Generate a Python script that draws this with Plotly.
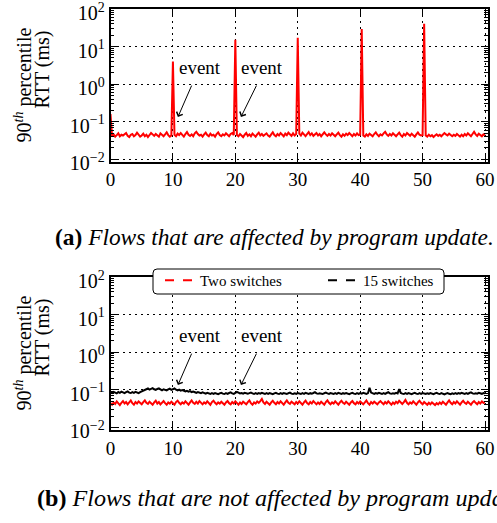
import math
import plotly.graph_objects as go

# ---------------- data ----------------
STEP = 0.25
time_s = [round(i * STEP, 2) for i in range(241)]

# (a) flows affected by program update (Two switches)
rtt_affected = [
    0.16, 0.042, 0.046, 0.040, 0.044, 0.049, 0.041, 0.045, 0.043, 0.048, 0.050, 0.042, 0.039, 0.045, 0.047, 0.041, 0.044, 0.051, 0.046, 0.040,
    0.043, 0.048, 0.041, 0.045, 0.039, 0.044, 0.050, 0.046, 0.042, 0.047, 0.043, 0.040, 0.049, 0.045, 0.041, 0.046, 0.052, 0.044, 0.040, 0.043,
    4.0, 0.045, 0.041, 0.048, 0.044, 0.050, 0.043, 0.040, 0.047, 0.053, 0.045, 0.042, 0.046, 0.041, 0.049, 0.054, 0.047, 0.043, 0.045, 0.040,
    0.046, 0.051, 0.044, 0.041, 0.048, 0.043, 0.045, 0.040, 0.047, 0.052, 0.044, 0.041, 0.046, 0.043, 0.049, 0.045, 0.041, 0.047, 0.050, 0.044,
    15.0, 0.044, 0.041, 0.047, 0.043, 0.039, 0.045, 0.050, 0.042, 0.046, 0.041, 0.048, 0.044, 0.040, 0.046, 0.051, 0.043, 0.047, 0.042, 0.045,
    0.049, 0.043, 0.040, 0.046, 0.052, 0.044, 0.041, 0.047, 0.043, 0.050, 0.045, 0.041, 0.048, 0.044, 0.051, 0.046, 0.042, 0.049, 0.043, 0.047,
    17.0, 0.048, 0.043, 0.051, 0.045, 0.041, 0.047, 0.053, 0.044, 0.049, 0.042, 0.046, 0.050, 0.043, 0.047, 0.041, 0.045, 0.052, 0.046, 0.042,
    0.047, 0.043, 0.049, 0.045, 0.041, 0.046, 0.051, 0.044, 0.040, 0.046, 0.042, 0.048, 0.044, 0.050, 0.045, 0.041, 0.047, 0.043, 0.049, 0.044,
    0.045, 29.0, 0.043, 0.040, 0.046, 0.042, 0.048, 0.044, 0.041, 0.047, 0.052, 0.045, 0.041, 0.046, 0.043, 0.049, 0.054, 0.046, 0.042, 0.047,
    0.043, 0.049, 0.045, 0.041, 0.046, 0.051, 0.044, 0.040, 0.047, 0.043, 0.050, 0.045, 0.042, 0.048, 0.044, 0.040, 0.046, 0.052, 0.045, 0.043,
    0.044, 40.0, 0.043, 0.040, 0.045, 0.041, 0.044, 0.039, 0.043, 0.046, 0.042, 0.045, 0.041, 0.047, 0.050, 0.046, 0.043, 0.048, 0.044, 0.041,
    0.045, 0.042, 0.047, 0.043, 0.040, 0.045, 0.041, 0.047, 0.043, 0.049, 0.045, 0.041, 0.047, 0.054, 0.046, 0.042, 0.048, 0.044, 0.041, 0.046,
    0.043,
]

# (b) flows not affected by program update
rtt_two_switches = [
    0.044, 0.040, 0.046, 0.042, 0.049, 0.044, 0.039, 0.045, 0.050, 0.043, 0.047, 0.041, 0.046, 0.052, 0.044, 0.040, 0.047, 0.043, 0.049, 0.045,
    0.041, 0.047, 0.052, 0.045, 0.042, 0.048, 0.044, 0.040, 0.046, 0.051, 0.043, 0.047, 0.041, 0.045, 0.050, 0.044, 0.040, 0.046, 0.043, 0.048,
    0.044, 0.040, 0.047, 0.051, 0.045, 0.041, 0.046, 0.043, 0.049, 0.044, 0.040, 0.046, 0.052, 0.045, 0.042, 0.048, 0.043, 0.050, 0.045, 0.041,
    0.046, 0.043, 0.049, 0.044, 0.040, 0.047, 0.051, 0.045, 0.041, 0.046, 0.043, 0.048, 0.044, 0.040, 0.046, 0.050, 0.044, 0.041, 0.047, 0.043,
    0.049, 0.044, 0.040, 0.046, 0.042, 0.048, 0.045, 0.041, 0.047, 0.052, 0.044, 0.040, 0.046, 0.043, 0.049, 0.045, 0.050, 0.057, 0.046, 0.042,
    0.048, 0.044, 0.040, 0.046, 0.051, 0.045, 0.041, 0.047, 0.043, 0.049, 0.044, 0.040, 0.046, 0.052, 0.045, 0.042, 0.048, 0.044, 0.041, 0.047,
    0.043, 0.049, 0.045, 0.040, 0.046, 0.051, 0.044, 0.041, 0.047, 0.043, 0.050, 0.045, 0.041, 0.046, 0.042, 0.048, 0.044, 0.040, 0.047, 0.052,
    0.045, 0.041, 0.046, 0.043, 0.049, 0.044, 0.040, 0.046, 0.051, 0.045, 0.042, 0.048, 0.043, 0.040, 0.046, 0.050, 0.044, 0.041, 0.047, 0.043,
    0.049, 0.045, 0.041, 0.046, 0.052, 0.044, 0.040, 0.047, 0.043, 0.048, 0.044, 0.041, 0.046, 0.050, 0.045, 0.041, 0.047, 0.043, 0.049, 0.044,
    0.040, 0.046, 0.042, 0.048, 0.044, 0.051, 0.046, 0.042, 0.047, 0.054, 0.045, 0.041, 0.046, 0.043, 0.049, 0.044, 0.040, 0.046, 0.051, 0.045,
    0.041, 0.047, 0.043, 0.040, 0.045, 0.041, 0.046, 0.043, 0.039, 0.044, 0.041, 0.046, 0.042, 0.048, 0.044, 0.040, 0.046, 0.052, 0.045, 0.041,
    0.047, 0.043, 0.049, 0.044, 0.040, 0.046, 0.051, 0.045, 0.042, 0.048, 0.044, 0.040, 0.046, 0.050, 0.045, 0.041, 0.047, 0.043, 0.049, 0.045,
    0.046,
]

rtt_15_switches = [
    0.086, 0.082, 0.088, 0.084, 0.080, 0.087, 0.083, 0.089, 0.085, 0.081, 0.086, 0.090, 0.084, 0.082, 0.087, 0.083, 0.088, 0.085, 0.081, 0.086,
    0.090, 0.094, 0.098, 0.104, 0.108, 0.101, 0.106, 0.110, 0.103, 0.099, 0.105, 0.109, 0.102, 0.097, 0.103, 0.100, 0.096, 0.102, 0.107, 0.099,
    0.103, 0.108, 0.100, 0.096, 0.101, 0.095, 0.098, 0.093, 0.090, 0.094, 0.089, 0.092, 0.087, 0.090, 0.086, 0.083, 0.087, 0.084, 0.081, 0.085,
    0.082, 0.079, 0.083, 0.080, 0.077, 0.081, 0.078, 0.082, 0.079, 0.076, 0.080, 0.083, 0.079, 0.077, 0.081, 0.078, 0.082, 0.085, 0.080, 0.078,
    0.083, 0.088, 0.084, 0.080, 0.082, 0.079, 0.083, 0.080, 0.078, 0.081, 0.084, 0.080, 0.077, 0.081, 0.078, 0.082, 0.079, 0.083, 0.080, 0.077,
    0.081, 0.078, 0.082, 0.079, 0.076, 0.080, 0.083, 0.079, 0.077, 0.081, 0.078, 0.082, 0.080, 0.077, 0.081, 0.084, 0.079, 0.077, 0.080, 0.078,
    0.082, 0.079, 0.077, 0.081, 0.078, 0.083, 0.080, 0.077, 0.081, 0.079, 0.082, 0.086, 0.080, 0.078, 0.081, 0.079, 0.077, 0.081, 0.084, 0.080,
    0.078, 0.082, 0.079, 0.077, 0.081, 0.078, 0.083, 0.080, 0.077, 0.081, 0.079, 0.082, 0.078, 0.076, 0.080, 0.083, 0.079, 0.077, 0.081, 0.078,
    0.082, 0.079, 0.083, 0.080, 0.077, 0.081, 0.113, 0.084, 0.080, 0.078, 0.082, 0.079, 0.083, 0.080, 0.077, 0.081, 0.078, 0.082, 0.086, 0.080,
    0.078, 0.081, 0.079, 0.083, 0.080, 0.104, 0.082, 0.079, 0.077, 0.081, 0.078, 0.082, 0.079, 0.076, 0.080, 0.083, 0.079, 0.077, 0.081, 0.078,
    0.082, 0.079, 0.077, 0.080, 0.078, 0.082, 0.079, 0.076, 0.080, 0.083, 0.079, 0.077, 0.081, 0.078, 0.075, 0.079, 0.082, 0.078, 0.076, 0.080,
    0.077, 0.081, 0.078, 0.082, 0.079, 0.083, 0.080, 0.077, 0.081, 0.078, 0.082, 0.085, 0.080, 0.078, 0.081, 0.079, 0.083, 0.080, 0.078, 0.082,
    0.080,
]

x_ticks = [0, 10, 20, 30, 40, 50, 60]
y_tick_values = [0.01, 0.1, 1, 10, 100]
y_tick_labels = ["10<sup>−2</sup>", "10<sup>−1</sup>", "10<sup>0</sup>",
                 "10<sup>1</sup>", "10<sup>2</sup>"]
series_names = ["Two switches", "15 switches"]
event_text = "event"
# event annotation: (text x, text y), (arrow tail x, y), (arrow head x, y)
event_labels = [(14.4, 2.85), (24.3, 2.85)]
event_tails = [(13.1, 1.0), (23.5, 1.0)]
event_heads = [(10.8, 0.133), (20.9, 0.133)]
captions = ["<b>(a)</b> <i>Flows that are affected by program update.</i>",
            "<b>(b)</b> <i>Flows that are not affected by program update.</i>"]

# ---------------- figure ----------------
W, H = 497, 523
FONT = "Liberation Serif"

def px_x(p):
    return p / W

def px_y(p):
    return 1 - p / H

fig = go.Figure()

fig.add_trace(go.Scatter(x=time_s, y=rtt_affected, mode="lines",
                         line=dict(color="#ff0000", width=2), showlegend=False,
                         xaxis="x", yaxis="y"))
fig.add_trace(go.Scatter(x=time_s, y=rtt_two_switches, mode="lines",
                         line=dict(color="#ff0000", width=2), showlegend=False,
                         xaxis="x2", yaxis="y2"))
fig.add_trace(go.Scatter(x=time_s, y=rtt_15_switches, mode="lines",
                         line=dict(color="#000000", width=2), showlegend=False,
                         xaxis="x2", yaxis="y2"))
# legend entries (dashed samples, as in the original key)
fig.add_trace(go.Scatter(x=[None], y=[None], mode="lines", name=series_names[0],
                         line=dict(color="#ff0000", width=2, dash="dash"),
                         xaxis="x2", yaxis="y2"))
fig.add_trace(go.Scatter(x=[None], y=[None], mode="lines", name=series_names[1],
                         line=dict(color="#000000", width=2, dash="dash"),
                         xaxis="x2", yaxis="y2"))

xdom = [px_x(110.5), px_x(487.5)]
common_x = dict(range=[0, 60.4], tickvals=x_ticks, ticks="inside", ticklen=7,
                tickwidth=1, tickcolor="black", mirror="ticks", showline=True,
                linecolor="black", linewidth=1.5, showgrid=True, gridcolor="black",
                gridwidth=1, griddash="2px,4px", zeroline=False, automargin=False,
                ticklabeloverflow="allow",
                tickfont=dict(family=FONT, size=19, color="black"), domain=xdom)
common_y = dict(type="log", tickvals=y_tick_values, ticktext=y_tick_labels,
                ticks="inside", ticklen=7, tickwidth=1, tickcolor="black",
                mirror="ticks", showline=True, linecolor="black", linewidth=1.5,
                showgrid=True, gridcolor="black", gridwidth=1, griddash="2px,4px",
                zeroline=False, automargin=False, ticklabeloverflow="allow",
                ticklabelshift=4,
                minor=dict(ticks="inside", ticklen=4, tickcolor="black", dtick="D1",
                           showgrid=False),
                tickfont=dict(family=FONT, size=20, color="black"))

# rounded legend frame (paper coordinates)
lx0, lx1, ly0, ly1 = px_x(153), px_x(444), px_y(294), px_y(269)
rx, ry = 4 / W, 4 / H
legend_frame = (f"M{lx0+rx},{ly1} L{lx1-rx},{ly1} Q{lx1},{ly1} {lx1},{ly1-ry} "
                f"L{lx1},{ly0+ry} Q{lx1},{ly0} {lx1-rx},{ly0} L{lx0+rx},{ly0} "
                f"Q{lx0},{ly0} {lx0},{ly0+ry} L{lx0},{ly1-ry} Q{lx0},{ly1} {lx0+rx},{ly1} Z")

fig.update_layout(
    width=W, height=H, autosize=False,
    margin=dict(l=0, r=0, t=0, b=0, autoexpand=False),
    paper_bgcolor="white", plot_bgcolor="white",
    font=dict(family=FONT, color="black"),
    xaxis=dict(common_x, anchor="y"),
    yaxis=dict(common_y, anchor="x", range=[-2.064, 2], domain=[px_y(161.7), px_y(8.9)]),
    xaxis2=dict(common_x, anchor="y2"),
    yaxis2=dict(common_y, anchor="x2", range=[-2.07, 2], domain=[px_y(430), px_y(276.9)]),
    legend=dict(orientation="h", x=px_x(160), y=px_y(264), xanchor="left", yanchor="top",
                bgcolor="rgba(0,0,0,0)", borderwidth=0,
                font=dict(family=FONT, size=15, color="black"),
                entrywidth=118, itemwidth=30),
    shapes=[dict(type="path", path=legend_frame, xref="paper", yref="paper",
                 fillcolor="white", line=dict(color="black", width=1), layer="above")],
)

annotations = []
for xr, yr in (("x", "y"), ("x2", "y2")):
    for (tx, ty), (ax_, ay_), (hx, hy) in zip(event_labels, event_tails, event_heads):
        annotations.append(dict(x=tx, y=math.log10(ty), xref=xr, yref=yr, text=event_text,
                                showarrow=False, xanchor="center", yanchor="middle",
                                font=dict(family=FONT, size=19, color="black")))
        annotations.append(dict(x=hx, y=math.log10(hy), ax=ax_, ay=math.log10(ay_),
                                xref=xr, yref=yr, axref=xr, ayref=yr, text="",
                                showarrow=True, arrowhead=4, arrowsize=1.3, arrowwidth=1,
                                arrowcolor="black"))

# y-axis titles (two lines each)
for top in (8.9, 276.9):
    annotations.append(dict(x=px_x(23), y=px_y(top + 76.5), xref="paper", yref="paper",
                            text="90<sup><i>th</i></sup> percentile", textangle=-90,
                            showarrow=False, xanchor="center", yanchor="middle",
                            font=dict(family=FONT, size=20, color="black")))
    annotations.append(dict(x=px_x(42), y=px_y(top + 60.5), xref="paper", yref="paper",
                            text="RTT (ms)", textangle=-90,
                            showarrow=False, xanchor="center", yanchor="middle",
                            font=dict(family=FONT, size=20, color="black")))

# captions
annotations.append(dict(x=px_x(53), y=px_y(237), xref="paper", yref="paper",
                        text=captions[0], showarrow=False, xanchor="left", yanchor="middle",
                        font=dict(family=FONT, size=23.4, color="black")))
annotations.append(dict(x=px_x(35), y=px_y(498), xref="paper", yref="paper",
                        text=captions[1], showarrow=False, xanchor="left", yanchor="middle",
                        font=dict(family=FONT, size=24.1, color="black")))

fig.update_layout(annotations=annotations)
fig.write_html("out.html", config={"displayModeBar": False},
               post_script="document.body.style.margin='0';")
